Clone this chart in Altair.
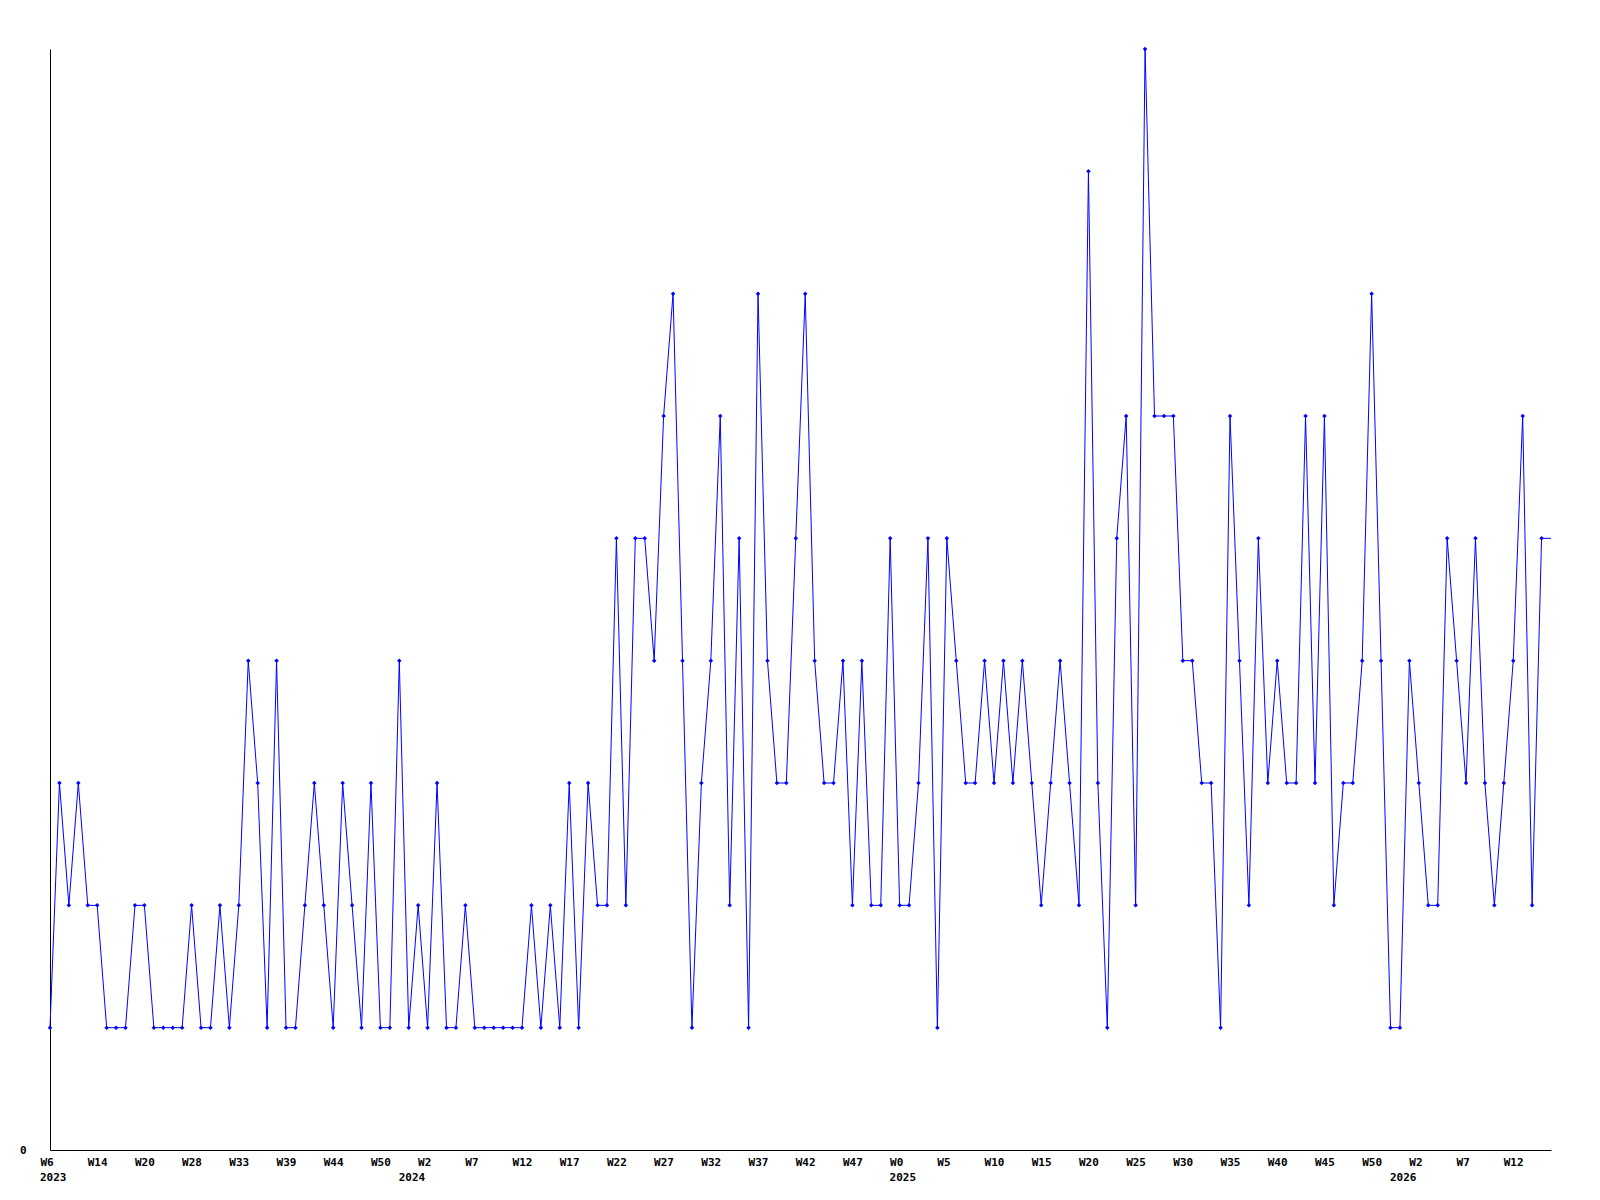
import altair as alt
import pandas as pd

values = [
    1,3,2,3,2,2,1,1,1,2,2,1,1,1,1,2,1,1,2,1,
    2,4,3,1,4,1,1,2,3,2,1,3,2,1,3,1,1,4,1,2,
    1,3,1,1,2,1,1,1,1,1,1,2,1,2,1,3,1,3,2,2,
    5,2,5,5,4,6,7,4,1,3,4,6,2,5,1,7,4,3,3,5,
    7,4,3,3,4,2,4,2,2,5,2,2,3,5,1,5,4,3,3,4,
    3,4,3,4,3,2,3,4,3,2,8,3,1,5,6,2,9,6,6,6,
    4,4,3,3,1,6,4,2,5,3,4,3,3,6,3,6,2,3,3,4,
    7,4,1,1,4,3,2,2,5,4,3,5,3,2,3,4,6,2,5,
]
# current (incomplete) week: line continues to the edge without a marker
current_value = 5

week_labels = ["W6","W14","W20","W28","W33","W39","W44","W50","W2","W7","W12",
               "W17","W22","W27","W32","W37","W42","W47","W0","W5","W10","W15",
               "W20","W25","W30","W35","W40","W45","W50","W2","W7","W12"]
year_labels = ["2023", "2024", "2025", "2026"]
year_index = [0, 38, 90, 143]

n = len(values)
df = pd.DataFrame({
    "i": list(range(n)) + [n],
    "v": values + [current_value],
    "marker": [True] * n + [False],
})
years = pd.DataFrame({"i": year_index, "label": year_labels})

W, H = 1501, 1101
FONT = "DejaVu Sans Mono"

xscale = alt.Scale(domain=[0, n], nice=False, zero=False)
yscale = alt.Scale(domain=[0, 9], nice=False)

label_expr = "[" + ",".join(f"'{w}'" for w in week_labels) + "][round(datum.value/5)]"

base = alt.Chart(df)
line = base.mark_line(color="#0000ff", strokeWidth=1).encode(
    x=alt.X("i:Q", scale=xscale, title=None,
            axis=alt.Axis(values=list(range(0, 5 * len(week_labels), 5)),
                          labelExpr=label_expr, ticks=False, tickSize=0,
                          grid=False, domainColor="black", domainWidth=1,
                          labelAlign="left", labelOffset=-10, labelBaseline="top",
                          labelPadding=6, labelFont=FONT, labelFontWeight="bold",
                          labelFontSize=11, labelColor="black", labelOverlap=False,
                          labelFlush=False)),
    y=alt.Y("v:Q", scale=yscale, title=None,
            axis=alt.Axis(values=[0], format="d", ticks=False, tickSize=0, grid=False,
                          domainColor="black", domainWidth=1, labelPadding=24,
                          labelFont=FONT, labelFontWeight="bold", labelFontSize=11,
                          labelColor="black", labelBaseline="middle")),
)
pts = base.transform_filter("datum.marker").mark_point(
    shape="diamond", filled=True, size=20, color="#0000ff", opacity=1
).encode(x=alt.X("i:Q", scale=xscale), y=alt.Y("v:Q", scale=yscale))

yr = alt.Chart(years).mark_text(
    align="left", baseline="top", dx=-10, font=FONT, fontWeight="bold",
    fontSize=11, color="black"
).encode(x=alt.X("i:Q", scale=xscale), y=alt.value(H + 22), text="label:N")

chart = alt.layer(line, pts, yr).properties(
    width=W, height=H,
    background="white",
    autosize=alt.AutoSizeParams(type="none"),
    padding={"left": 42, "top": 41, "right": 40, "bottom": 60},
).configure_view(strokeWidth=0)

chart.save("out.html", embed_options={"renderer": "svg", "actions": False})
